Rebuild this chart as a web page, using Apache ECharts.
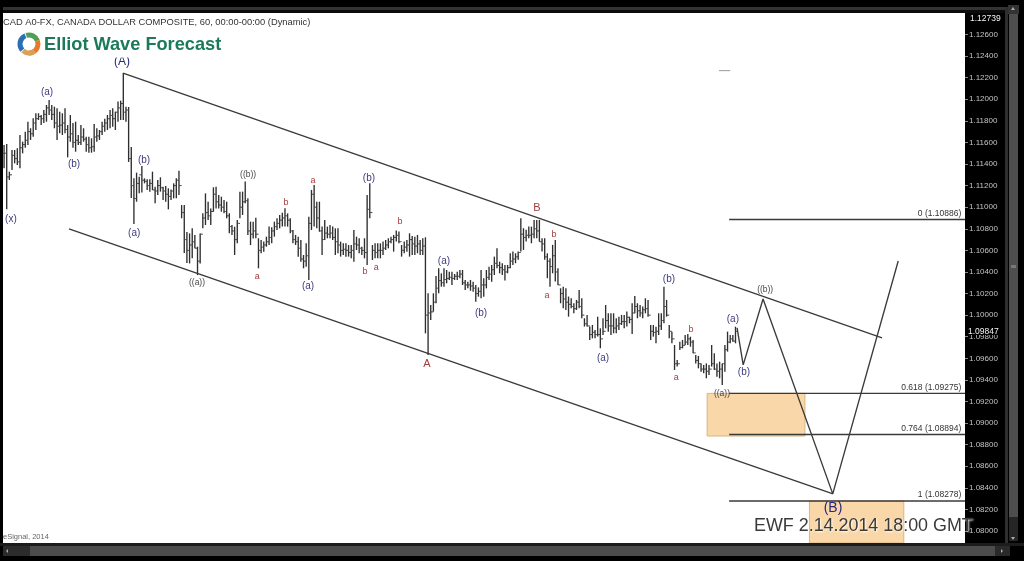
<!DOCTYPE html>
<html><head><meta charset="utf-8">
<style>html,body{margin:0;padding:0;background:#000;overflow:hidden}#c{width:1024px;height:561px;filter:blur(.5px)}</style>
<script src="https://cdn.jsdelivr.net/npm/echarts@6/dist/echarts.min.js"></script>
</head><body><div id="c"></div>
<script>
const highs=[
1.11576,1.11585,1.11329,1.11530,1.11530,1.11545,1.11669,1.11607,1.11700,1.11792,
1.11731,1.11823,1.11870,1.11870,1.11854,1.11900,1.11947,1.11993,1.11947,1.11931,
1.11916,1.11885,1.11870,1.11916,1.11761,1.11854,1.11780,1.11792,1.11669,1.11761,
1.11731,1.11653,1.11653,1.11638,1.11771,1.11731,1.11715,1.11792,1.11820,1.11854,
1.11900,1.11916,1.11885,1.11978,1.11987,1.12243,1.11931,1.11928,1.11558,1.11267,
1.11320,1.11283,1.11382,1.11267,1.11258,1.11258,1.11329,1.11190,1.11252,1.11277,
1.11190,1.11196,1.11175,1.11165,1.11221,1.11267,1.11338,1.11020,1.11021,1.10771,
1.10757,1.10804,1.10742,1.10634,1.10757,1.10943,1.11128,1.11051,1.10989,1.11184,
1.11190,1.11113,1.11097,1.11067,1.11051,1.10943,1.10835,1.10819,1.10881,1.11144,
1.11144,1.11237,1.11082,1.10866,1.10866,
1.10903,1.10712,1.10696,1.10681,1.10727,1.10820,1.10814,1.10866,1.10897,1.10928,
1.10949,1.10990,1.10943,1.10897,1.10789,1.10743,1.10727,1.10696,1.10557,1.10665,
1.10912,1.11160,1.11206,1.11051,1.11051,1.10820,1.10882,1.10820,1.10835,1.10820,
1.10804,1.10804,1.10681,1.10665,1.10665,1.10650,1.10650,1.10789,1.10727,1.10712,
1.10634,1.10712,1.11113,1.11221,1.10650,1.10665,1.10665,
1.10665,1.10681,1.10696,1.10712,1.10727,1.10743,1.10783,1.10774,1.10650,1.10681,
1.10696,1.10758,1.10733,1.10727,1.10743,1.10696,1.10712,1.10721,1.10202,1.10094,
1.10202,1.10362,1.10434,1.10387,1.10434,1.10418,1.10403,1.10403,1.10381,1.10403,
1.10418,1.10418,1.10326,1.10310,1.10326,1.10310,1.10279,1.10257,1.10418,1.10341,
1.10418,1.10449,1.10465,1.10542,1.10619,1.10495,1.10480,
1.10465,1.10465,1.10573,1.10589,1.10573,1.10589,1.10898,1.10805,1.10790,1.10820,
1.10820,1.10882,1.10882,1.10882,1.10712,1.10712,1.10573,1.10527,1.10651,1.10697,
1.10434,1.10249,1.10264,1.10249,1.10172,1.10156,1.10110,1.10141,1.10233,1.10156,
1.09971,1.10002,1.09894,1.09909,1.09863,1.09986,1.09878,1.09971,1.10094,1.10017,
1.10017,1.10017,1.09971,1.09986,1.10002,1.10002,1.10033,
1.09986,1.10110,1.10178,1.10110,1.10094,1.10079,1.10156,1.10141,1.09909,1.09909,
1.09893,1.10017,1.10017,1.10264,1.10141,1.09909,1.09847,1.09723,1.09584,1.09754,
1.09770,1.09816,1.09825,1.09800,1.09770,1.09631,1.09622,1.09553,1.09538,1.09553,
1.09538,1.09723,1.09646,1.09553,1.09569,1.09553,1.09723,1.09847,1.09816,1.09816,1.09893];
const lows=[
1.11360,1.10980,1.11252,1.11345,1.11406,1.11391,1.11360,1.11499,1.11550,1.11576,
1.11623,1.11653,1.11715,1.11808,1.11761,1.11780,1.11792,1.11854,1.11808,1.11731,
1.11623,1.11684,1.11669,1.11684,1.11462,1.11607,1.11550,1.11514,1.11576,1.11576,
1.11607,1.11514,1.11505,1.11505,1.11514,1.11607,1.11623,1.11669,1.11700,1.11715,
1.11731,1.11746,1.11715,1.11792,1.11808,1.11808,1.11792,1.11419,1.11085,1.10844,
1.11051,1.11128,1.11135,1.11221,1.11159,1.11144,1.11159,1.11036,1.11113,1.11144,
1.11067,1.11051,1.10980,1.11067,1.11082,1.11082,1.11113,1.10897,1.10576,1.10484,
1.10479,1.10526,1.10619,1.10371,1.10479,1.10804,1.10835,1.10881,1.10835,1.10958,
1.10989,1.10989,1.10958,1.10943,1.10897,1.10758,1.10742,1.10557,1.10665,1.10897,
1.10928,1.11036,1.10742,1.10649,1.10711,
1.10712,1.10434,1.10573,1.10588,1.10634,1.10650,1.10665,1.10727,1.10789,1.10804,
1.10820,1.10820,1.10820,1.10758,1.10665,1.10650,1.10542,1.10495,1.10434,1.10449,
1.10325,1.10789,1.10820,1.10804,1.10773,1.10557,1.10696,1.10712,1.10712,1.10696,
1.10557,1.10573,1.10542,1.10557,1.10542,1.10542,1.10526,1.10495,1.10603,1.10573,
1.10557,1.10526,1.10464,1.10897,1.10511,1.10526,1.10526,
1.10526,1.10557,1.10604,1.10619,1.10665,1.10588,1.10681,1.10665,1.10542,1.10573,
1.10588,1.10542,1.10557,1.10557,1.10573,1.10557,1.10557,1.09831,1.09630,1.09955,
1.10032,1.10109,1.10202,1.10264,1.10264,1.10295,1.10326,1.10279,1.10326,1.10326,
1.10341,1.10279,1.10233,1.10248,1.10226,1.10217,1.10125,1.10171,1.10156,1.10171,
1.10248,1.10326,1.10310,1.10372,1.10434,1.10387,1.10372,
1.10320,1.10388,1.10434,1.10465,1.10481,1.10512,1.10589,1.10604,1.10681,1.10712,
1.10666,1.10712,1.10712,1.10681,1.10589,1.10512,1.10342,1.10264,1.10388,1.10311,
1.10280,1.10110,1.10064,1.10048,1.09986,1.10064,1.10017,1.10048,1.10064,1.09971,
1.09894,1.09894,1.09770,1.09785,1.09785,1.09801,1.09693,1.09816,1.09878,1.09847,
1.09816,1.09832,1.09832,1.09863,1.09909,1.09878,1.09894,
1.09924,1.09825,1.10017,1.09971,1.09986,1.09971,1.10017,1.09986,1.09770,1.09801,
1.09739,1.09816,1.09862,1.09924,1.09986,1.09785,1.09739,1.09492,1.09523,1.09677,
1.09692,1.09723,1.09723,1.09708,1.09646,1.09553,1.09507,1.09476,1.09461,1.09415,
1.09445,1.09523,1.09492,1.09430,1.09415,1.09353,1.09476,1.09662,1.09739,1.09754,1.09739];
const closes=[
1.1150,1.1128,1.1130,1.1148,1.1145,1.1142,1.1155,1.1158,1.1162,1.1170,
1.1168,1.1178,1.1182,1.1184,1.1182,1.1186,1.1192,1.1190,1.1186,1.1178,
1.1175,1.1176,1.1178,1.1172,1.1165,1.1168,1.1160,1.1162,1.1160,1.1165,
1.1163,1.1158,1.1155,1.1156,1.1165,1.1166,1.1170,1.1175,1.1178,1.1182,
1.1185,1.1182,1.1188,1.1192,1.1196,1.1188,1.1190,1.1145,1.1120,1.1108,
1.1122,1.1130,1.1125,1.1124,1.1120,1.1122,1.1116,1.1115,1.1120,1.1118,
1.1115,1.1112,1.1110,1.1115,1.1120,1.1125,1.1120,1.1095,1.1070,1.1060,
1.1065,1.1068,1.1062,1.1050,1.1075,1.1090,1.1095,1.1092,1.1096,1.1112,
1.1105,1.1102,1.1100,1.1096,1.1092,1.1082,1.1078,1.1070,1.1085,1.1100,
1.1105,1.1106,1.1078,1.1075,1.1078,
1.1075,1.1060,1.1063,1.1065,1.1068,1.1072,1.1078,1.1082,1.1085,1.1088,
1.1090,1.1092,1.1088,1.1078,1.1070,1.1068,1.1062,1.1052,1.1050,1.1055,
1.1085,1.1112,1.1100,1.1090,1.1078,1.1070,1.1076,1.1075,1.1076,1.1072,
1.1068,1.1065,1.1060,1.1061,1.1060,1.1058,1.1060,1.1066,1.1065,1.1062,
1.1060,1.1058,1.1098,1.1095,1.1060,1.1058,1.1060,
1.1060,1.1062,1.1065,1.1068,1.1070,1.1072,1.1074,1.1068,1.1060,1.1063,
1.1065,1.1070,1.1066,1.1064,1.1066,1.1060,1.1064,1.1000,1.1002,1.1003,
1.1012,1.1025,1.1032,1.1030,1.1033,1.1034,1.1035,1.1034,1.1036,1.1036,
1.1038,1.1030,1.1028,1.1028,1.1027,1.1025,1.1020,1.1022,1.1028,1.1028,
1.1035,1.1038,1.1042,1.1048,1.1046,1.1044,1.1042,
1.1040,1.1044,1.1050,1.1052,1.1054,1.1058,1.1075,1.1072,1.1074,1.1074,
1.1075,1.1080,1.1078,1.1068,1.1066,1.1054,1.1050,1.1045,1.1055,1.1040,
1.1028,1.1020,1.1015,1.1012,1.1010,1.1008,1.1006,1.1012,1.1008,1.1000,
1.0992,1.0990,1.0982,1.0984,1.0982,1.0982,1.0978,1.0985,1.0995,1.0990,
1.0990,1.0988,1.0990,1.0992,1.0994,1.0994,1.0998,
1.0996,1.1002,1.1008,1.1004,1.1002,1.1005,1.1006,1.1000,1.0985,1.0984,
1.0985,1.0990,1.0995,1.1008,1.1000,1.0985,1.0978,1.0955,1.0955,1.0970,
1.0972,1.0975,1.0978,1.0975,1.0965,1.0958,1.0955,1.0950,1.0950,1.0948,
1.0950,1.0955,1.0950,1.0948,1.0950,1.0955,1.0968,1.0975,1.0978,1.0976,1.0985];
const tickValues=[1.126,1.124,1.122,1.12,1.118,1.116,1.114,1.112,1.11,1.108,1.106,1.104,1.102,1.1,1.098,1.096,1.094,1.092,1.09,1.088,1.086,1.084,1.082,1.08];
const upperChannel=[[44.9,1.12243],[331.3,1.09789]];
const lowerChannel=[[24.5,1.10799],[312.8,1.08344]];
const projection=[[276.6,1.09881],[278.9,1.09539],[286.4,1.10150],[312.7,1.08344],[337.4,1.10502]];
const stray=[[269.8,1.12265],[274,1.12265]];
const fibRatios=['0','0.618','0.764','1'];
const fibValues=[1.10886,1.09275,1.08894,1.08278];
const fibStart=273.6, xMin=-0.4, xMax=362.6, fibLabelX=361.2;
const zones=[[265.3,302.2,1.09275,1.08880],[303.9,339.5,1.08278,1.07889]];
const waveX=[44.5,16.2,26.4,2.6,52.8,49.1,72.8,92.1,95.5,106.4,116.6,114.7,137.7,136.2,140.4,149.4,166,180,159.6,201.1,207.5,204.9,226,250.9,253.6,259.2,275,279.2,287.2,270.9,312.8];
const waveP=[1.12350,1.12068,1.11401,1.10891,1.11438,1.10761,1.10298,1.11299,1.10354,1.11039,1.11243,1.10270,1.11271,1.10400,1.10437,1.10863,1.10502,1.10020,1.09548,1.10993,1.10743,1.10178,1.09603,1.10335,1.09418,1.09863,1.09965,1.09474,1.10233,1.09270,1.08214];
const waveText=['(A)','(a)','(b)','(x)','(b)','(a)','((a))','((b))','a','b','a','(a)','(b)','b','a','b','(a)','(b)','A','B','b','a','(a)','(b)','a','b','(a)','(b)','((b))','((a))','(B)'];
const FONT='"Liberation Sans",Arial,sans-serif';
function waveStyle(t){
 if(t==='(A)')return{fill:'#27277f',font:'12px '+FONT};
 if(t==='(B)')return{fill:'#27277f',font:'14px '+FONT};
 if(t==='A'||t==='B')return{fill:'#a33c3c',font:'11px '+FONT};
 if(t==='a'||t==='b')return{fill:'#a33c3c',font:'9px '+FONT};
 if(t.startsWith('(('))return{fill:'#444',font:'8.5px '+FONT};
 return{fill:'#3b3b7e',font:'10px '+FONT};
}
const seg=(d)=>({type:'line',data:d,symbol:'none',silent:true,animation:false,clip:false,z:5,lineStyle:{color:'#3a3a3a',width:1.35}});
const chart=echarts.init(document.getElementById('c'),null,{renderer:'canvas'});
const rect=(x,y,w,h,f,z)=>({type:'rect',shape:{x,y,width:w,height:h},style:{fill:f},z:z||100,silent:true});
const txt=(x,y,t,f,font,align,extra)=>({type:'text',x,y,z:110,silent:true,style:Object.assign({text:t,fill:f,font:font,align:align||'left',verticalAlign:'middle'},extra||{})});
const arc=(s,e,c)=>({type:'arc',shape:{cx:29,cy:44,r:9,startAngle:s,endAngle:e},style:{stroke:c,lineWidth:5,fill:null},z:110,silent:true});
chart.setOption({
 animation:false,backgroundColor:'#000',
 grid:{left:3,right:59,top:13,bottom:18,backgroundColor:'#fff',show:true,borderWidth:0},
 xAxis:{type:'value',min:xMin,max:xMax,show:false},
 yAxis:{type:'value',position:'right',min:1.07889,max:1.12799,splitLine:{show:false},axisLine:{show:false,onZero:false},
  axisTick:{show:true,length:3,lineStyle:{color:'#888'},customValues:tickValues},
  axisLabel:{color:'#c4c4c4',fontSize:8,fontFamily:FONT,margin:4,customValues:tickValues,formatter:v=>v.toFixed(5)}},
 series:[
  {type:'custom',z:1,silent:true,clip:true,data:zones,encode:{x:[0,1],y:[2,3]},renderItem:(p,api)=>{
    const a=api.coord([api.value(0),api.value(2)]),b=api.coord([api.value(1),api.value(3)]);
    return{type:'rect',shape:{x:a[0],y:a[1],width:b[0]-a[0],height:b[1]-a[1]},style:{fill:'#fad7a8',stroke:'#d8b681',lineWidth:1}};
  }},
  {type:'custom',z:3,silent:true,data:highs.map((h,i)=>[i,h,lows[i],closes[i],closes[Math.max(i-1,0)]]),encode:{x:0,y:[1,2]},renderItem:(p,api)=>{
    const i=api.value(0),a=api.coord([i,api.value(1)]),b=api.coord([i,api.value(2)]),c=api.coord([i,api.value(3)]),o=api.coord([i,api.value(4)]);
    const st={stroke:'#2e2e2e',lineWidth:1.35};
    return{type:'group',children:[
      {type:'line',shape:{x1:a[0],y1:a[1],x2:b[0],y2:b[1]},style:st},
      {type:'line',shape:{x1:c[0],y1:c[1],x2:c[0]+1.4,y2:c[1]},style:{stroke:'#444',lineWidth:1}},
      {type:'line',shape:{x1:o[0]-1.4,y1:o[1],x2:o[0],y2:o[1]},style:{stroke:'#444',lineWidth:1}}
    ]};
  }},
  seg(upperChannel),seg(lowerChannel),seg(projection),
  Object.assign(seg(stray),{lineStyle:{color:'#999',width:1}}),
  ...fibValues.map(v=>seg([[fibStart,v],[xMax,v]])),
  {type:'custom',z:8,silent:true,clip:false,data:fibValues.map(v=>[fibLabelX,v]),encode:{x:0,y:1},renderItem:(p,api)=>{
    const a=api.coord([api.value(0),api.value(1)]);
    return{type:'text',style:{text:fibRatios[p.dataIndex]+' ('+fibValues[p.dataIndex].toFixed(5)+')',x:a[0],y:a[1]-1.5,fill:'#333',font:'8.5px '+FONT,align:'right',verticalAlign:'bottom'}};
  }},
  {type:'custom',z:9,silent:true,clip:false,data:waveX.map((x,i)=>[x,waveP[i]]),encode:{x:0,y:1},renderItem:(p,api)=>{
    const a=api.coord([api.value(0),api.value(1)]);const s=waveStyle(waveText[p.dataIndex]);
    return{type:'text',style:{text:waveText[p.dataIndex],x:a[0],y:a[1],fill:s.fill,font:s.font,align:'center',verticalAlign:'middle'}};
  }}
 ],
 graphic:[
  rect(0,0,1024,7,'#000'),rect(0,7,1006,3,'#333'),rect(0,10,1006,3,'#0a0a0a'),
  rect(0,0,3,561,'#000'),
  rect(0,543,1024,3,'#1c1c1c'),rect(3,546,27,10,'#2c2c2c'),rect(30,546,965,10,'#4c4c4c'),rect(995,546,15,10,'#2a2a2a'),rect(0,556,1024,5,'#000'),
  {type:'polygon',shape:{points:[[8,549],[8,553],[6,551]]},style:{fill:'#aaa'},z:105,silent:true},
  {type:'polygon',shape:{points:[[1001,549],[1001,553],[1003,551]]},style:{fill:'#aaa'},z:105,silent:true},
  rect(1005,7,3,536,'#2e2e2e'),rect(1008,5,11,9,'#333'),rect(1009,14,9,503,'#4e4e4e'),rect(1009,517,9,24,'#262626'),rect(1011,265,5,3,'#777'),
  {type:'polygon',shape:{points:[[1013,7],[1011,10],[1015,10]]},style:{fill:'#aaa'},z:105,silent:true},
  {type:'polygon',shape:{points:[[1011,537],[1015,537],[1013,540]]},style:{fill:'#aaa'},z:105,silent:true},
  rect(966,326,38,9,'#000',60),
  rect(110,45,26,12.5,'#fff',60),
  txt(968,332,'1.09847','#f2f2f2','8.5px '+FONT),
  txt(970,19,'1.12739','#f2f2f2','8.5px '+FONT),
  txt(3,22,'CAD A0-FX, CANADA DOLLAR COMPOSITE, 60, 00:00-00:00 (Dynamic)','#333','9.35px '+FONT),
  txt(44,45,'Elliot Wave Forecast','#1b7a5c','bold 18.2px '+FONT),
  arc(2.4,4.3,'#2a6fb5'),arc(4.4,5.9,'#4f9f55'),arc(5.9,7.9,'#e8792b'),arc(0.9,2.3,'#d9a05a'),
  txt(3,537,'eSignal, 2014','#666','7.5px '+FONT),
  txt(754,526,'EWF 2.14.2014 18:00 GMT','#3a3a3a','17.9px '+FONT,'left',{textShadowColor:'rgba(255,255,255,.95)',textShadowBlur:2,textShadowOffsetX:1,textShadowOffsetY:1})
 ]
});
</script></body></html>
